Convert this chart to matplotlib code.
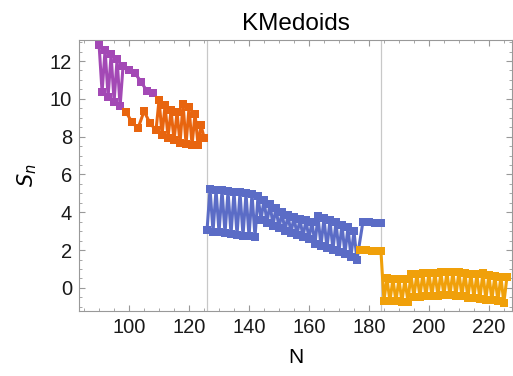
import matplotlib
matplotlib.use("Agg")
import matplotlib.pyplot as plt
from matplotlib.ticker import MultipleLocator

plt.rcParams["font.family"] = ["Liberation Sans", "DejaVu Sans"]

# purple block
purple_n = [90, 91, 92, 93, 94, 95, 96, 97, 98, 100, 102, 104, 106, 108]
purple_s = [12.85, 10.35, 12.6, 10.1, 12.35, 9.85, 12.1, 9.6, 11.75, 11.5, 11.35, 10.9, 10.4, 10.3]

# red-orange block
red_n = [99, 101, 103, 105, 107, 109, 110, 111, 112, 113, 114, 115, 116, 117,
         118, 119, 120, 121, 122, 123, 124, 125]
red_s = [9.3, 8.75, 8.45, 9.35, 8.7, 8.35, 9.95, 8.1, 9.65, 7.95, 9.4, 7.8, 9.3, 7.65,
         9.75, 7.6, 9.55, 7.55, 9.2, 7.55, 8.6, 7.95]

# blue block
blue_n = [126, 127, 128, 129, 130, 131, 132, 133, 134, 135, 136, 137, 138, 139, 140, 141, 142,
          143, 144, 145, 146, 147, 148, 149, 150, 151, 152, 153, 154, 155, 156, 157, 158, 159, 160, 161,
          162, 163, 164, 165, 166, 167, 168, 169, 170, 171, 172, 173, 174, 175, 176,
          178, 180, 182, 184]
blue_s = [3.05, 5.25, 2.97, 5.2, 2.93, 5.17, 2.88, 5.12, 2.84, 5.08, 2.8, 5.05, 2.76, 5.0, 2.72, 4.98, 2.7,
          4.85, 3.6, 4.65, 3.45, 4.45, 3.3, 4.25, 3.15, 4.0, 3.0, 3.85, 2.9, 3.75, 2.8, 3.65, 2.7, 3.58, 2.6, 3.5,
          2.3, 3.8, 2.2, 3.7, 2.1, 3.6, 2.0, 3.5, 1.9, 3.35, 1.8, 3.2, 1.65, 3.0, 1.5,
          3.5, 3.47, 3.45, 3.42]

# orange block
orange_n = [177, 179, 181, 183, 184, 185, 186, 187, 188, 189, 190, 191, 192, 193, 194, 195,
            196, 197, 198, 199, 200, 201, 202, 203, 204, 205, 206, 207, 208, 209, 210,
            211, 212, 213, 214, 215, 216, 217, 218, 219, 220, 221, 222, 223, 224, 225, 226]
orange_s = [2.0, 2.0, 1.97, 1.95, 1.95, -0.68, 0.5, -0.7, 0.48, -0.72, 0.47, -0.73, 0.45, -0.74, 0.72, -0.48,
            0.76, -0.47, 0.78, -0.45, 0.8, -0.43, 0.8, -0.42, 0.82, -0.4, 0.84, -0.4, 0.85, -0.42, 0.86,
            -0.45, 0.8, -0.55, 0.75, -0.52, 0.72, -0.6, 0.8, -0.62, 0.7, -0.65, 0.65, -0.7, 0.6, -0.8, 0.55]

x_ticks = [100, 120, 140, 160, 180, 200, 220]
y_ticks = [0, 2, 4, 6, 8, 10, 12]
split_lines = [126, 184]

fig = plt.figure(figsize=(5.13, 3.76), dpi=100)
ax = fig.add_axes([0.154, 0.173, 0.844, 0.721])

for xv in split_lines:
    ax.axvline(xv, color="#c8c8c8", linewidth=0.9, zorder=1)

series = [
    (purple_n, purple_s, "#a349b5"),
    (red_n, red_s, "#e8650f"),
    (blue_n, blue_s, "#5b6cc6"),
    (orange_n, orange_s, "#f0a00a"),
]
for n, s, c in series:
    ax.plot(n, s, color=c, linewidth=2.2, marker="s", markersize=5.6,
            markeredgewidth=0, zorder=3)

ax.set_xlim(83.3, 227.7)
ax.set_ylim(-1.22, 13.12)
ax.set_xticks(x_ticks)
ax.set_yticks(y_ticks)
ax.xaxis.set_minor_locator(MultipleLocator(5))
ax.yaxis.set_minor_locator(MultipleLocator(0.5))
ax.tick_params(which="both", direction="in", top=True, right=True,
               color="#999999", labelsize=14.5, labelcolor="#1a1a1a")
ax.tick_params(which="major", length=4, width=0.8, pad=5)
ax.tick_params(which="minor", length=2.5, width=0.6)
for sp in ax.spines.values():
    sp.set_color("#999999")
    sp.set_linewidth(0.8)

ax.set_title("KMedoids", fontsize=17.5, pad=7)
ax.set_xlabel("N", fontsize=15, labelpad=8)
ax.set_ylabel("$S_n$", fontsize=15, labelpad=8)

fig.savefig("out.png", dpi=100)
